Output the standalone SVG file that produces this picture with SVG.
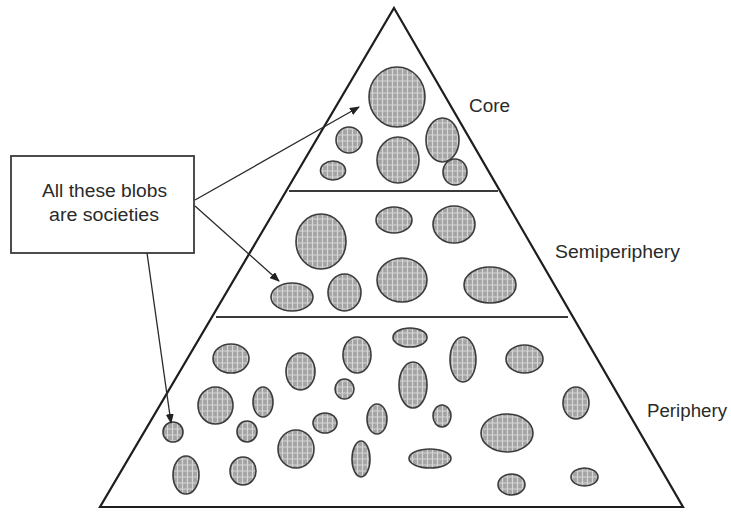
<svg xmlns="http://www.w3.org/2000/svg" width="731" height="512" viewBox="0 0 731 512">
<defs>
<pattern id="hatch" width="5" height="6" patternUnits="userSpaceOnUse">
<rect width="5" height="6" fill="#a4a4a4"/>
<path d="M2.5 0V6M0 3H5" stroke="#d6d6d6" stroke-width="1.2"/>
</pattern>
<marker id="ah" markerWidth="10" markerHeight="8" refX="9" refY="4" orient="auto" markerUnits="userSpaceOnUse">
<path d="M0 0L10 4L0 8Z" fill="#222"/>
</marker>
<style>
.edge{fill:none;stroke:#1e1e1e;stroke-width:2.2;stroke-linejoin:miter}
.div{stroke:#3a3a3a;stroke-width:2}
.blob{fill:url(#hatch);stroke:#3c3c3c;stroke-width:1.6}
.lbl{font-family:"Liberation Sans",Arial,sans-serif;font-size:18px;fill:#2a2a2a}
.box{fill:#fff;stroke:#3a3a3a;stroke-width:1.8}
.arr{fill:none;stroke:#2a2a2a;stroke-width:1.3}
</style>
</defs>
<rect width="731" height="512" fill="#fff"/>

<g id="pyramid">
<path class="edge" d="M394 8L683 507H100Z"/>
<line class="div" x1="289" y1="191" x2="498" y2="191"/>
<line class="div" x1="216" y1="317" x2="568" y2="317"/>
</g>

<g id="core">
<ellipse class="blob" cx="397" cy="97" rx="28" ry="30"/>
<ellipse class="blob" cx="349" cy="140" rx="13" ry="13"/>
<ellipse class="blob" cx="333" cy="170.5" rx="12.5" ry="9.5"/>
<ellipse class="blob" cx="398" cy="160" rx="21" ry="23"/>
<ellipse class="blob" cx="442.5" cy="140" rx="16.5" ry="22"/>
<ellipse class="blob" cx="455" cy="172" rx="12" ry="13"/>
<text class="lbl" x="469" y="112" textLength="41" lengthAdjust="spacingAndGlyphs">Core</text>
</g>

<g id="semiperiphery">
<ellipse class="blob" cx="321" cy="241.5" rx="25" ry="27.5"/>
<ellipse class="blob" cx="394" cy="220" rx="18" ry="13"/>
<ellipse class="blob" cx="454" cy="224.5" rx="21" ry="18.5"/>
<ellipse class="blob" cx="292" cy="297" rx="21" ry="14"/>
<ellipse class="blob" cx="344.5" cy="292.5" rx="16.5" ry="18.5"/>
<ellipse class="blob" cx="402" cy="280" rx="25" ry="22"/>
<ellipse class="blob" cx="490" cy="285" rx="26" ry="18"/>
<text class="lbl" x="555" y="258" textLength="125" lengthAdjust="spacingAndGlyphs">Semiperiphery</text>
</g>

<g id="periphery">
<ellipse class="blob" cx="231" cy="358.5" rx="18" ry="14.5"/>
<ellipse class="blob" cx="300.5" cy="371.5" rx="14.5" ry="18.5"/>
<ellipse class="blob" cx="357" cy="355" rx="14" ry="18"/>
<ellipse class="blob" cx="410" cy="337.5" rx="17" ry="9.5"/>
<ellipse class="blob" cx="463" cy="359.5" rx="13" ry="22.5"/>
<ellipse class="blob" cx="524.5" cy="359" rx="18.5" ry="14"/>
<ellipse class="blob" cx="215.5" cy="405.5" rx="17.5" ry="18.5"/>
<ellipse class="blob" cx="263" cy="402" rx="10" ry="15"/>
<ellipse class="blob" cx="344.5" cy="389" rx="9.5" ry="10"/>
<ellipse class="blob" cx="413" cy="385" rx="14" ry="23"/>
<ellipse class="blob" cx="576" cy="403" rx="13" ry="16"/>
<ellipse class="blob" cx="173" cy="432" rx="10" ry="10"/>
<ellipse class="blob" cx="247" cy="431.5" rx="10" ry="10.5"/>
<ellipse class="blob" cx="325" cy="423" rx="12" ry="10"/>
<ellipse class="blob" cx="377" cy="419" rx="10" ry="15"/>
<ellipse class="blob" cx="442" cy="416" rx="9" ry="11"/>
<ellipse class="blob" cx="507" cy="433" rx="26" ry="19"/>
<ellipse class="blob" cx="296" cy="449" rx="18" ry="19"/>
<ellipse class="blob" cx="186" cy="475" rx="13" ry="19"/>
<ellipse class="blob" cx="243" cy="471" rx="13" ry="14"/>
<ellipse class="blob" cx="361" cy="459" rx="9" ry="18"/>
<ellipse class="blob" cx="430" cy="458.5" rx="21" ry="9.5"/>
<ellipse class="blob" cx="511.5" cy="484.5" rx="13.5" ry="10.5"/>
<ellipse class="blob" cx="584.5" cy="477" rx="13.5" ry="9"/>
<text class="lbl" x="647" y="417" textLength="80" lengthAdjust="spacingAndGlyphs">Periphery</text>
</g>

<g id="note">
<rect class="box" x="11" y="156" width="183" height="97"/>
<text class="lbl" x="42" y="197" textLength="125" lengthAdjust="spacingAndGlyphs">All these blobs</text>
<text class="lbl" x="49" y="221" textLength="110" lengthAdjust="spacingAndGlyphs">are societies</text>
</g>

<g id="connectors">
<line class="arr" x1="195" y1="200" x2="359" y2="107" marker-end="url(#ah)"/>
<line class="arr" x1="195" y1="206" x2="279" y2="281" marker-end="url(#ah)"/>
<line class="arr" x1="147" y1="253" x2="171" y2="423" marker-end="url(#ah)"/>
</g>
</svg>
